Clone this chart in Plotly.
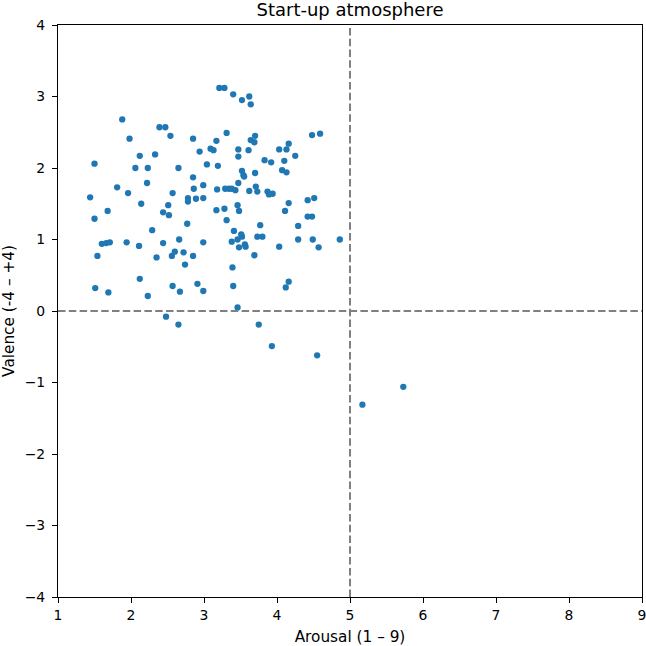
"""
Start-up atmosphere: valence vs arousal scatter with quadrant lines.
"""

import plotly.graph_objects as go

AROUSAL = [
    3.21, 1.88, 2.39, 2.47, 1.98, 2.54, 2.85, 3.17, 2.12, 2.33,
    2.94, 3.09, 3.13, 1.50, 2.06, 2.23, 2.65, 3.04, 3.19, 2.85,
    2.22, 1.81, 1.96, 2.86, 2.99, 3.18, 2.57, 1.44, 2.78, 2.78,
    2.89, 2.99, 2.14, 2.51, 1.68, 2.44, 2.52, 1.50, 3.17, 2.77,
    2.29, 1.60, 1.66, 1.71, 1.94, 2.11, 2.44, 2.66, 2.99, 1.54,
    2.35, 2.56, 2.60, 2.72, 2.85, 2.74, 2.12, 1.51, 1.69, 2.23,
    2.57, 2.67, 2.91, 2.99, 2.48, 2.65, 3.28, 3.40, 3.52, 3.62,
    3.64, 3.31, 3.47, 3.47, 3.61, 3.70, 3.64, 3.69, 3.83, 3.92,
    4.03, 4.13, 4.16, 4.10, 4.25, 4.48, 4.59, 3.52, 3.54, 3.55,
    3.70, 4.07, 4.13, 3.47, 3.29, 3.34, 3.38, 3.43, 3.62, 3.71,
    3.73, 3.87, 3.89, 3.94, 3.28, 3.46, 3.48, 4.16, 4.11, 4.42,
    4.51, 4.42, 4.48, 3.31, 3.77, 4.29, 3.41, 3.51, 3.52, 3.46,
    3.38, 3.73, 3.80, 3.56, 3.57, 3.48, 4.03, 4.29, 4.49, 4.57,
    4.86, 3.69, 3.39, 3.40, 4.16, 4.12, 3.46, 3.75, 3.93, 4.55,
    5.17, 5.73,
]

VALENCE = [
    3.12, 2.68, 2.57, 2.57, 2.41, 2.45, 2.41, 2.38, 2.17, 2.19,
    2.23, 2.27, 2.25, 2.06, 2.00, 2.00, 2.00, 2.05, 2.03, 1.87,
    1.79, 1.73, 1.65, 1.71, 1.76, 1.70, 1.65, 1.59, 1.58, 1.53,
    1.57, 1.58, 1.50, 1.48, 1.40, 1.38, 1.34, 1.29, 1.41, 1.22,
    1.13, 0.94, 0.95, 0.96, 0.96, 0.91, 0.95, 1.00, 0.96, 0.77,
    0.75, 0.77, 0.83, 0.82, 0.77, 0.65, 0.45, 0.32, 0.26, 0.21,
    0.35, 0.27, 0.38, 0.28, -0.08, -0.19, 3.12, 3.03, 2.95, 3.00,
    2.89, 2.49, 2.26, 2.16, 2.25, 2.45, 2.39, 2.36, 2.11, 2.08,
    2.26, 2.26, 2.34, 2.10, 2.17, 2.46, 2.48, 1.96, 1.90, 1.88,
    1.93, 1.97, 1.94, 1.79, 1.71, 1.71, 1.71, 1.69, 1.68, 1.74,
    1.67, 1.67, 1.63, 1.64, 1.43, 1.48, 1.40, 1.51, 1.40, 1.55,
    1.58, 1.32, 1.32, 1.27, 1.20, 1.19, 1.12, 1.07, 1.04, 1.00,
    0.97, 1.04, 1.04, 0.93, 0.90, 0.89, 0.90, 1.00, 1.00, 0.89,
    1.00, 0.78, 0.61, 0.35, 0.41, 0.33, 0.05, -0.19, -0.49, -0.62,
    -1.31, -1.06,
]

X_RANGE = [1, 9]
Y_RANGE = [-4, 4]
X_TICKS = [1, 2, 3, 4, 5, 6, 7, 8, 9]
Y_TICKS = [-4, -3, -2, -1, 0, 1, 2, 3, 4]
MID_AROUSAL = 5
MID_VALENCE = 0

FONT = "DejaVu Sans"
DOT_BLUE = "#1f77b4"
DASH_GREY = "#808080"

fig = go.Figure()

fig.add_trace(go.Scatter(
    x=AROUSAL,
    y=VALENCE,
    mode="markers",
    marker=dict(color=DOT_BLUE, size=6.3, line=dict(width=0)),
    showlegend=False,
))

# quadrant lines
fig.add_vline(x=MID_AROUSAL, line=dict(color=DASH_GREY, width=2, dash="7.5px,3.3px"))
fig.add_hline(y=MID_VALENCE, line=dict(color=DASH_GREY, width=2, dash="7.5px,3.3px"))

axis_style = dict(
    showline=True,
    mirror=True,
    linecolor="black",
    linewidth=1.1,
    ticks="outside",
    ticklen=5,
    tickwidth=1.1,
    tickcolor="black",
    showgrid=False,
    zeroline=False,
    tickfont=dict(family=FONT, size=13.9, color="black"),
    ticklabeloverflow="allow",
    automargin=False,
)

fig.update_xaxes(
    range=X_RANGE,
    tickvals=X_TICKS,
    title=dict(text="Arousal (1 – 9)", font=dict(family=FONT, size=15.3, color="black"), standoff=10),
    **axis_style,
)
fig.update_yaxes(
    range=Y_RANGE,
    tickvals=Y_TICKS,
    ticklabelstandoff=4,
    title=dict(text="Valence (-4 – +4)", font=dict(family=FONT, size=15.3, color="black"), standoff=8),
    **axis_style,
)

fig.update_layout(
    width=646,
    height=646,
    margin=dict(l=58, r=4, t=25, b=49),
    paper_bgcolor="white",
    plot_bgcolor="white",
    title=dict(
        text="Start-up atmosphere",
        xref="paper",
        x=0.5,
        xanchor="center",
        y=1 - 10 / 646,
        yanchor="middle",
        font=dict(family=FONT, size=18, color="black"),
    ),
)

# the page body has a default 8px margin; drop it so the figure fills the window
fig.write_html(
    "out.html",
    config={"displayModeBar": False},
    post_script="document.body.style.margin = '0';",
)
